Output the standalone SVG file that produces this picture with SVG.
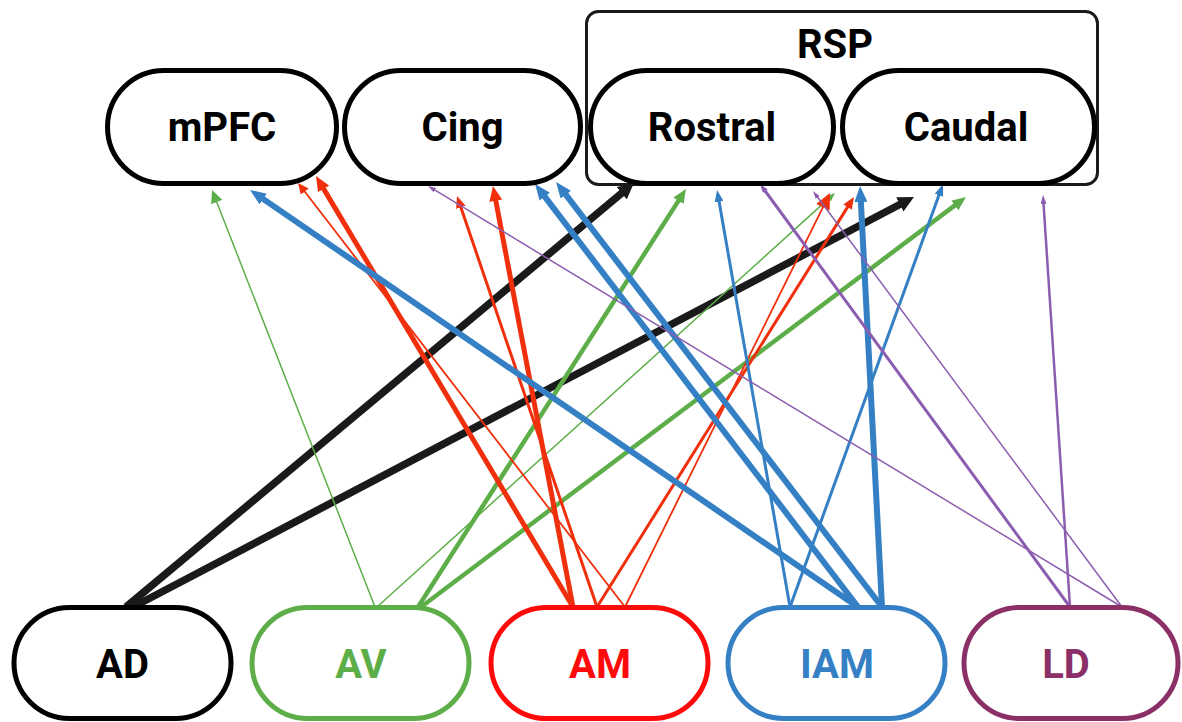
<svg xmlns="http://www.w3.org/2000/svg" width="1182" height="722" viewBox="0 0 1182 722">
  <style>
    .lbl { font-family: Roboto, "Liberation Sans", Arial, sans-serif; font-weight: 700; font-size: 40px; text-anchor: middle; }
    .pill { fill: #ffffff; stroke-width: 5; }
    .edge { fill: none; stroke-linecap: butt; }
    .k { stroke: #1a1a1a; }
    .g { stroke: #5dae48; }
    .r { stroke: #f0300c; }
    .b { stroke: #3580c5; }
    .p { stroke: #8b5db0; }
  </style>
  <defs>
    <marker id="h-black" viewBox="0 0 10 10" refX="1" refY="5" markerUnits="userSpaceOnUse" markerWidth="16" markerHeight="16" orient="auto" preserveAspectRatio="none"><path d="M0,0L10,5L0,10z" fill="#1a1a1a"/></marker>
    <marker id="h-green-l" viewBox="0 0 10 10" refX="1" refY="5" markerUnits="userSpaceOnUse" markerWidth="14" markerHeight="12" orient="auto" preserveAspectRatio="none"><path d="M0,0L10,5L0,10z" fill="#5dae48"/></marker>
    <marker id="h-green-m" viewBox="0 0 10 10" refX="1" refY="5" markerUnits="userSpaceOnUse" markerWidth="13" markerHeight="12" orient="auto" preserveAspectRatio="none"><path d="M0,0L10,5L0,10z" fill="#5dae48"/></marker>
    <marker id="h-green-s" viewBox="0 0 10 10" refX="1" refY="5" markerUnits="userSpaceOnUse" markerWidth="9" markerHeight="7" orient="auto" preserveAspectRatio="none"><path d="M0,0L10,5L0,10z" fill="#5dae48"/></marker>
    <marker id="h-red-xl" viewBox="0 0 10 10" refX="1" refY="5" markerUnits="userSpaceOnUse" markerWidth="16" markerHeight="15" orient="auto" preserveAspectRatio="none"><path d="M0,0L10,5L0,10z" fill="#f0300c"/></marker>
    <marker id="h-red-l" viewBox="0 0 10 10" refX="1" refY="5" markerUnits="userSpaceOnUse" markerWidth="15" markerHeight="13" orient="auto" preserveAspectRatio="none"><path d="M0,0L10,5L0,10z" fill="#f0300c"/></marker>
    <marker id="h-red-m" viewBox="0 0 10 10" refX="1" refY="5" markerUnits="userSpaceOnUse" markerWidth="12" markerHeight="10" orient="auto" preserveAspectRatio="none"><path d="M0,0L10,5L0,10z" fill="#f0300c"/></marker>
    <marker id="h-red-s" viewBox="0 0 10 10" refX="1" refY="5" markerUnits="userSpaceOnUse" markerWidth="11" markerHeight="10" orient="auto" preserveAspectRatio="none"><path d="M0,0L10,5L0,10z" fill="#f0300c"/></marker>
    <marker id="h-blue-l" viewBox="0 0 10 10" refX="1" refY="5" markerUnits="userSpaceOnUse" markerWidth="16" markerHeight="13" orient="auto" preserveAspectRatio="none"><path d="M0,0L10,5L0,10z" fill="#3580c5"/></marker>
    <marker id="h-blue-m" viewBox="0 0 10 10" refX="1" refY="5" markerUnits="userSpaceOnUse" markerWidth="12" markerHeight="9" orient="auto" preserveAspectRatio="none"><path d="M0,0L10,5L0,10z" fill="#3580c5"/></marker>
    <marker id="h-purple" viewBox="0 0 10 10" refX="1" refY="5" markerUnits="userSpaceOnUse" markerWidth="9" markerHeight="6" orient="auto" preserveAspectRatio="none"><path d="M0,0L10,5L0,10z" fill="#8b5db0"/></marker>
    <marker id="h-purple-s" viewBox="0 0 10 10" refX="1" refY="5" markerUnits="userSpaceOnUse" markerWidth="8" markerHeight="5" orient="auto" preserveAspectRatio="none"><path d="M0,0L10,5L0,10z" fill="#8b5db0"/></marker>
  </defs>

  <rect width="1182" height="722" fill="#ffffff"/>

  <!-- projections from thalamic nuclei to cortical targets -->
  <g id="connectors">
    <!-- AD -->
    <line class="edge k" stroke-width="7.5" x1="126" y1="607" x2="622.9" y2="192.2" marker-end="url(#h-black)"/>
    <line class="edge k" stroke-width="7.5" x1="133" y1="607" x2="901.2" y2="203.7" marker-end="url(#h-black)"/>
    <!-- AV -->
    <line class="edge g" stroke-width="1.5" x1="375" y1="607" x2="216.3" y2="200.9" marker-end="url(#h-green-m)"/>
    <line class="edge g" stroke-width="4.5" x1="418" y1="607" x2="679.2" y2="199.6" marker-end="url(#h-green-l)"/>
    <line class="edge g" stroke-width="4.5" x1="421" y1="607" x2="955.9" y2="204.6" marker-end="url(#h-green-l)"/>
    <line class="edge g" stroke-width="1.5" x1="377" y1="607" x2="829.0" y2="198.4" marker-end="url(#h-green-s)"/>
    <!-- AM -->
    <line class="edge r" stroke-width="5" x1="573" y1="607" x2="322.9" y2="187.6" marker-end="url(#h-red-l)"/>
    <line class="edge r" stroke-width="1.8" x1="625" y1="607" x2="304.1" y2="190.8" marker-end="url(#h-red-s)"/>
    <line class="edge r" stroke-width="5" x1="573" y1="607" x2="495.5" y2="199.3" marker-end="url(#h-red-l)"/>
    <line class="edge r" stroke-width="3" x1="597" y1="607" x2="460.5" y2="206.2" marker-end="url(#h-red-m)"/>
    <line class="edge r" stroke-width="3" x1="597" y1="607" x2="848.2" y2="206.1" marker-end="url(#h-red-m)"/>
    <line class="edge r" stroke-width="1.8" x1="625" y1="607" x2="823.6" y2="205.9" marker-end="url(#h-red-xl)"/>
    <!-- IAM -->
    <line class="edge b" stroke-width="6" x1="858" y1="607" x2="261.9" y2="198.1" marker-end="url(#h-blue-l)"/>
    <line class="edge b" stroke-width="6" x1="858" y1="607" x2="543.8" y2="195.4" marker-end="url(#h-blue-l)"/>
    <line class="edge b" stroke-width="6" x1="882" y1="607" x2="564.8" y2="193.4" marker-end="url(#h-blue-l)"/>
    <line class="edge b" stroke-width="3" x1="790" y1="607" x2="718.9" y2="200.6" marker-end="url(#h-blue-m)"/>
    <line class="edge b" stroke-width="3" x1="790" y1="607" x2="939.3" y2="194.2" marker-end="url(#h-blue-m)"/>
    <line class="edge b" stroke-width="6" x1="882" y1="607" x2="860.8" y2="200.4" marker-end="url(#h-blue-l)"/>
    <!-- LD -->
    <line class="edge p" stroke-width="2.5" x1="1070" y1="607" x2="1043.5" y2="203.1" marker-end="url(#h-purple)"/>
    <line class="edge p" stroke-width="3" x1="1070" y1="607" x2="764.8" y2="190.5" marker-end="url(#h-purple)"/>
    <line class="edge p" stroke-width="1.5" x1="1122" y1="607" x2="434.2" y2="189.7" marker-end="url(#h-purple-s)"/>
    <line class="edge p" stroke-width="1.5" x1="1122" y1="607" x2="817.3" y2="196.8" marker-end="url(#h-purple-s)"/>
  </g>

  <!-- cortical targets -->
  <g id="node-mPFC">
    <rect class="pill" stroke="#000" x="107.5" y="70.5" width="229" height="113" rx="56.5"/>
    <text class="lbl" x="222" y="141" fill="#000">mPFC</text>
  </g>
  <g id="node-Cing">
    <rect class="pill" stroke="#000" x="344.5" y="70.5" width="236" height="113" rx="56.5"/>
    <text class="lbl" x="462.5" y="141" fill="#000">Cing</text>
  </g>
  <g id="node-RSP">
    <rect x="586.5" y="11.5" width="511" height="173" rx="12" fill="#ffffff" stroke="#1a1a1a" stroke-width="3"/>
    <text class="lbl" x="835" y="58" font-size="44" fill="#000">RSP</text>
  </g>
  <g id="node-Rostral">
    <rect class="pill" stroke="#000" x="590.5" y="70.5" width="243" height="113" rx="56.5"/>
    <text class="lbl" x="712" y="141" fill="#000">Rostral</text>
  </g>
  <g id="node-Caudal">
    <rect class="pill" stroke="#000" x="842.5" y="70.5" width="252" height="113" rx="56.5"/>
    <text class="lbl" x="966" y="141" fill="#000">Caudal</text>
  </g>

  <!-- thalamic nuclei -->
  <g id="node-AD">
    <rect class="pill" stroke="#000" x="14" y="607.5" width="217" height="111" rx="55.5"/>
    <text class="lbl" x="122.5" y="678" fill="#000">AD</text>
  </g>
  <g id="node-AV">
    <rect class="pill" stroke="#5dae48" x="252" y="607.5" width="217" height="111" rx="55.5"/>
    <text class="lbl" x="361" y="678" fill="#5dae48">AV</text>
  </g>
  <g id="node-AM">
    <rect class="pill" stroke="#ff0a0a" x="491" y="607.5" width="217" height="111" rx="55.5"/>
    <text class="lbl" x="600" y="678" fill="#ff0a0a">AM</text>
  </g>
  <g id="node-IAM">
    <rect class="pill" stroke="#3580c5" x="728" y="607.5" width="217" height="111" rx="55.5"/>
    <text class="lbl" x="837" y="678" fill="#3580c5">IAM</text>
  </g>
  <g id="node-LD">
    <rect class="pill" stroke="#8b3066" x="964" y="607.5" width="214" height="111" rx="55.5"/>
    <text class="lbl" x="1066" y="678" fill="#8b3066">LD</text>
  </g>
</svg>
